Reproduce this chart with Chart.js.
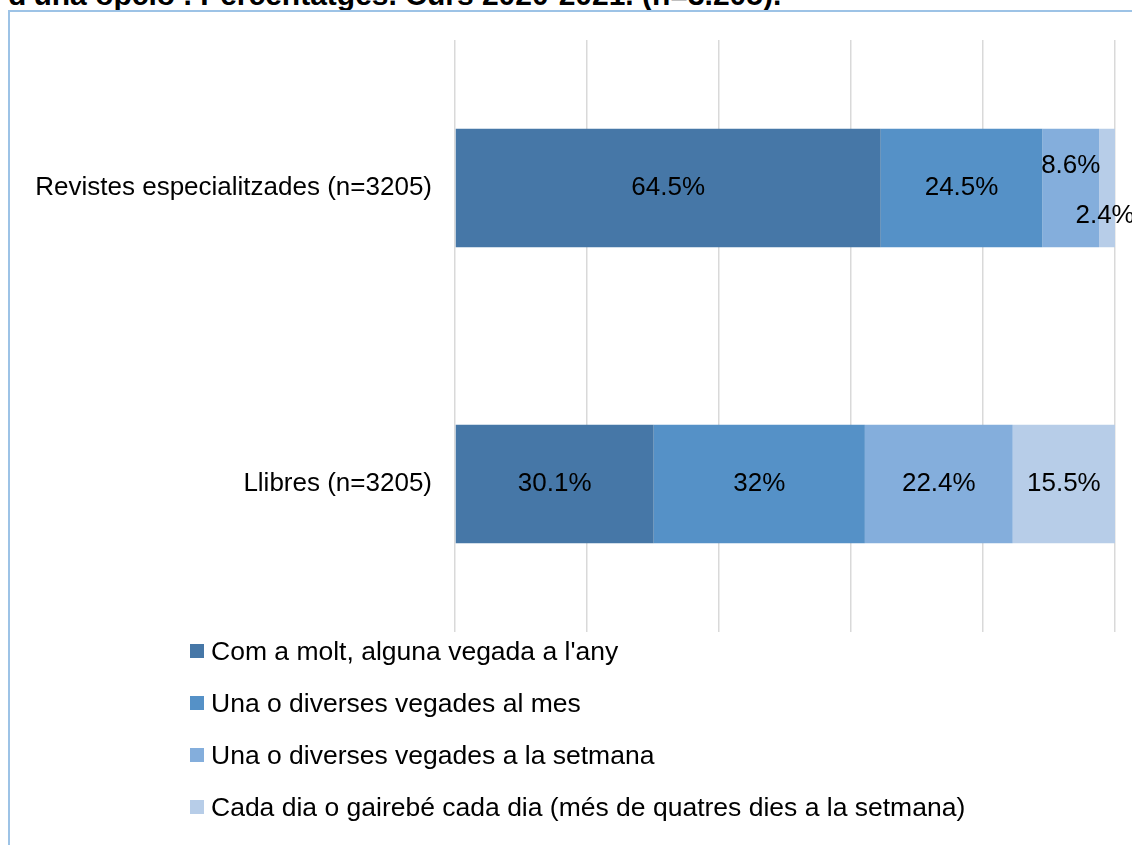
<!DOCTYPE html>
<html>
<head>
<meta charset="utf-8">
<script src="https://cdn.jsdelivr.net/npm/chart.js@4"></script>
<style>
	body { margin: 0; background: #fff; font-family: "Liberation Sans", Arial, sans-serif; }
	#wrap { position: relative; width: 1132px; height: 845px; overflow: hidden; }
	#title { position: absolute; left: 8px; top: -22px; font-weight: bold; font-size: 30px; color: #000; white-space: nowrap; }
	#frame { position: absolute; left: 8px; top: 10px; width: 1130px; height: 840px; border-top: 2px solid #9dc3e6; border-left: 2px solid #9dc3e6; }
	#chart { position: absolute; left: 0; top: 0; }
	#legend { position: absolute; left: 190px; top: 636px; }
	.item { height: 52px; display: flex; align-items: flex-start; font-size: 26.5px; line-height: 30px; color: #000; }
	.box { width: 14px; height: 14px; margin: 8px 7px 0 0; }
</style>
</head>
<body>
<div id="wrap">
	<div id="title">d'una opció . Percentatges. Curs 2020-2021. (n=3.205).</div>
	<div id="frame"></div>
	<canvas id="chart" width="1132" height="845"></canvas>
	<div id="legend"></div>
</div>
<script>
const categories = ['Revistes especialitzades (n=3205)', 'Llibres (n=3205)'];
const seriesNames = [
	"Com a molt, alguna vegada a l'any",
	'Una o diverses vegades al mes',
	'Una o diverses vegades a la setmana',
	'Cada dia o gairebé cada dia (més de quatres dies a la setmana)'
];
const rarely = [64.5, 30.1];
const monthly = [24.5, 32];
const weekly = [8.6, 22.4];
const daily = [2.4, 15.5];
const colors = ['#4677a7', '#5591c7', '#84aedc', '#b7cde8'];

// label offsets for thin segments (dataset index - category index -> [dx, dy])
const labelShift = { '2-0': [0, -22], '3-0': [-2, 28] };

const valueLabels = {
	id: 'valueLabels',
	afterDatasetsDraw(chart) {
		let ctx = chart.ctx;
		ctx.save();
		ctx.font = '26px "Liberation Sans", Arial, sans-serif';
		ctx.fillStyle = '#000';
		ctx.textAlign = 'center';
		ctx.textBaseline = 'middle';
		chart.data.datasets.forEach((ds, i) => {
			chart.getDatasetMeta(i).data.forEach((bar, j) => {
				let x = (bar.x + bar.base) / 2;
				let y = bar.y;
				let s = labelShift[i + '-' + j] || [0, 0];
				ctx.fillText(ds.data[j] + '%', x + s[0], y + s[1]);
			});
		});
		ctx.restore();
	}
};

let chart = new Chart(document.getElementById('chart'), {
	type: 'bar',
	data: {
		labels: categories,
		datasets: [rarely, monthly, weekly, daily].map((d, i) => ({
			label: seriesNames[i],
			data: d,
			backgroundColor: colors[i],
			borderWidth: 0,
			barPercentage: 0.4,
			categoryPercentage: 1
		}))
	},
	options: {
		indexAxis: 'y',
		responsive: false,
		animation: false,
		layout: { padding: { left: 0, right: 17, top: 40, bottom: 213 } },
		plugins: { legend: { display: false }, tooltip: { enabled: false } },
		scales: {
			x: {
				stacked: true,
				min: 0,
				max: 100,
				ticks: { display: false, stepSize: 20 },
				grid: { color: '#d9d9d9', lineWidth: 1.5, drawTicks: false },
				border: { display: false },
				afterFit: (s) => { s.height = 0; }
			},
			y: {
				stacked: true,
				ticks: { color: '#000', padding: 15, font: { size: 26, family: '"Liberation Sans", Arial, sans-serif' } },
				grid: { display: false },
				border: { display: false },
				afterFit: (s) => { s.width = 455; }
			}
		}
	},
	plugins: [valueLabels]
});

let legend = document.getElementById('legend');
chart.data.datasets.forEach((ds) => {
	let item = document.createElement('div');
	item.className = 'item';
	item.innerHTML = '<div class="box" style="background:' + ds.backgroundColor + '"></div><span>' + ds.label + '</span>';
	legend.appendChild(item);
});
</script>
</body>
</html>
